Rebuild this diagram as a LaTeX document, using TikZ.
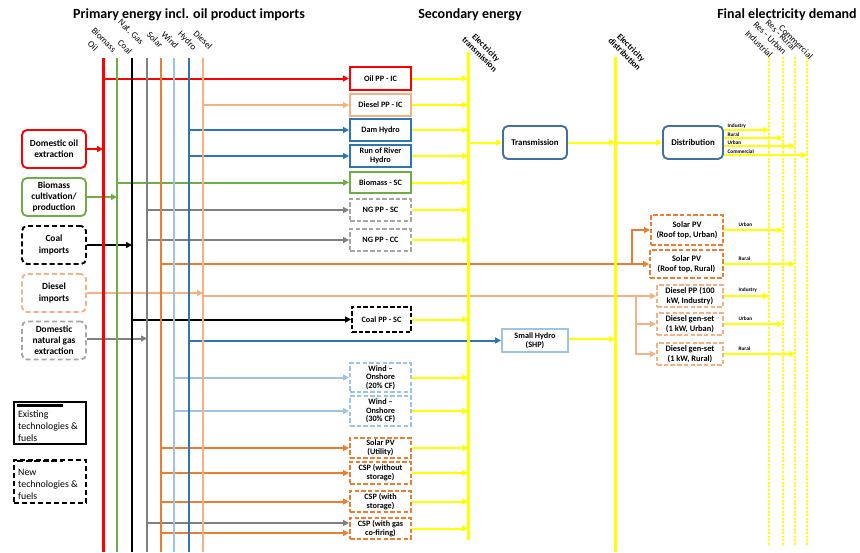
\documentclass[tikz,border=0pt]{standalone}
\usepackage{fontspec}
\setmainfont{Carlito}
\usetikzlibrary{arrows.meta}
\definecolor{cRed}{HTML}{FF0000}
\definecolor{cGreen}{HTML}{70AD47}
\definecolor{cGrey}{HTML}{808080}
\definecolor{cLGrey}{HTML}{A6A6A6}
\definecolor{cOrange}{HTML}{ED7D31}
\definecolor{cLBlue}{HTML}{9DC3E6}
\definecolor{cBlue}{HTML}{2E75B6}
\definecolor{cLOrange}{HTML}{F4B183}
\definecolor{cYellow}{HTML}{FFFF00}
\definecolor{cNavy}{HTML}{41719C}
\begin{document}
\begin{tikzpicture}[x=1pt,y=-1pt,
  font=\fontsize{8.2}{8.8}\selectfont\bfseries,
  box/.style={draw, line width=1.9pt, align=center, inner sep=0.5pt, minimum width=61pt, minimum height=22pt},
  dbox/.style={box, dash pattern=on 4.5pt off 2.2pt},
  lbox/.style={draw, line width=1.9pt, rounded corners=5pt, align=center, inner sep=1pt, minimum width=64pt, minimum height=38pt, font=\fontsize{9.4}{11.2}\selectfont\bfseries},
  dlbox/.style={lbox, dash pattern=on 5pt off 3pt},
  bus/.style={line width=2.2pt},
  arr/.style={line width=2pt, -{Triangle[length=6pt,width=6pt]}},
  yarr/.style={arr, draw=cYellow},
  ybus/.style={line width=3pt, draw=cYellow},
  ydot/.style={line width=2pt, draw=cYellow, dash pattern=on 2pt off 1.6pt},
  blab/.style={rotate=-45, font=\fontsize{9}{10}\selectfont, inner sep=0pt},
  tlab/.style={rotate=-45, font=\fontsize{8.6}{9.2}\selectfont\bfseries, align=center, inner sep=0pt},
  slab/.style={font=\fontsize{5.3}{5.5}\selectfont\bfseries, inner sep=0.5pt, anchor=south west},
  head/.style={font=\fontsize{14}{16}\selectfont\bfseries, inner sep=0pt}
]
\useasboundingbox (0,0) rectangle (860,552);

% headers
\node[head] (h1) at (189,15) {Primary energy incl. oil product imports};
\node[head] (h2) at (470,15) {Secondary energy};
\node[head] (h3) at (787,15) {Final electricity demand};

% bus labels
\node[blab] (lOil) at (93,46) {Oil};
\node[blab] (lBio) at (104,40) {Biomass};
\node[blab] (lCoal) at (125,47) {Coal};
\node[blab] (lGas) at (131,32) {Nat. Gas};
\node[blab] (lSolar) at (155,40) {Solar};
\node[blab] (lWind) at (170,40) {Wind};
\node[blab] (lHydro) at (187,41) {Hydro};
\node[blab] (lDiesel) at (203,40) {Diesel};
\node[tlab] (lTrans) at (483,51) {Electricity\\transmission};
\node[tlab] (lDist) at (628,51) {Electricity\\distribution};
\node[blab] (lInd) at (759,44) {Industrial};
\node[blab] (lResU) at (770,38) {Res - Urban};
\node[blab] (lResR) at (781,35) {Res - Rural};
\node[blab] (lCom) at (796,42) {Commercial};

% bus coordinates
\coordinate (oilT) at (103,58);   \coordinate (oilB) at (103,552);
\coordinate (bioT) at (117,58);   \coordinate (bioB) at (117,552);
\coordinate (coalT) at (132,58);  \coordinate (coalB) at (132,552);
\coordinate (gasT) at (147,58);   \coordinate (gasB) at (147,552);
\coordinate (solT) at (161,58);   \coordinate (solB) at (161,552);
\coordinate (windT) at (174,58);  \coordinate (windB) at (174,552);
\coordinate (hydT) at (189,58);   \coordinate (hydB) at (189,552);
\coordinate (dieT) at (203,58);   \coordinate (dieB) at (203,552);
\coordinate (trT) at (468,52);    \coordinate (trB) at (468,540);
\coordinate (diT) at (615,57);    \coordinate (diB) at (615,552);
\coordinate (indT) at (769,57);   \coordinate (indB) at (769,545);
\coordinate (ruT) at (783,57);    \coordinate (ruB) at (783,545);
\coordinate (rrT) at (795,57);    \coordinate (rrB) at (795,545);
\coordinate (comT) at (807,57);   \coordinate (comB) at (807,545);

% left boxes
\node[lbox, draw=cRed] (oilext) at (54,149) {Domestic oil\\extraction};
\node[lbox, draw=cGreen] (bioprod) at (54,197) {Biomass\\cultivation/\\production};
\node[dlbox, draw=black] (coalimp) at (54,245) {Coal\\imports};
\node[dlbox, draw=cLOrange] (dieimp) at (54,293) {Diesel\\imports};
\node[dlbox, draw=cLGrey] (ngext) at (54,340.5) {Domestic\\natural gas\\extraction};

% legend
\node[draw, line width=2pt, minimum width=72pt, minimum height=42pt, inner sep=0pt] (legE) at (50,423) {};
\node[font=\fontsize{9.8}{12}\selectfont, align=left, anchor=west, inner sep=0pt] (legEt) at (18,426) {Existing\\technologies \&\\fuels};
\coordinate (legEa) at (17,405); \coordinate (legEb) at (63,405);
\draw[line width=3pt] (legEa) -- (legEb);
\node[draw, line width=1.9pt, dash pattern=on 5pt off 3pt, minimum width=72pt, minimum height=43pt, inner sep=0pt] (legN) at (50,481.5) {};
\node[font=\fontsize{9.8}{12}\selectfont, align=left, anchor=west, inner sep=0pt] (legNt) at (18,484) {New\\technologies \&\\fuels};
\coordinate (legNa) at (17,461); \coordinate (legNb) at (63,461);
\draw[line width=2.6pt, dash pattern=on 6pt off 2.5pt] (legNa) -- (legNb);

% centre boxes
\node[box, draw=cRed, line width=2.3pt, minimum height=23pt] (oilpp) at (380.5,78.5) {Oil PP - IC};
\node[box, draw=cLOrange] (diepp) at (380.5,105) {Diesel PP - IC};
\node[box, draw=cBlue] (dam) at (380.5,130) {Dam Hydro};
\node[box, draw=cBlue] (ror) at (380.5,156) {Run of River\\Hydro};
\node[box, draw=cGreen, minimum height=21pt] (biosc) at (380.5,182.5) {Biomass - SC};
\node[dbox, draw=cLGrey] (ngsc) at (380.5,210) {NG PP - SC};
\node[dbox, draw=cLGrey] (ngcc) at (380.5,240) {NG PP - CC};
\node[dbox, draw=black, minimum width=59pt, minimum height=25pt] (coalsc) at (381.5,319.5) {Coal PP - SC};
\node[dbox, draw=cLBlue, minimum height=29pt, font=\fontsize{8.2}{8.4}\selectfont\bfseries] (wind20) at (380.5,377.5) {Wind –\\Onshore\\(20\% CF)};
\node[dbox, draw=cLBlue, minimum height=30pt, font=\fontsize{8.2}{8.4}\selectfont\bfseries] (wind30) at (380.5,411) {Wind –\\Onshore\\(30\% CF)};
\node[dbox, draw=cOrange, minimum height=20pt] (pvutil) at (380.5,448) {Solar PV\\(Utility)};
\node[dbox, draw=cOrange] (cspno) at (380.5,473) {CSP (without\\storage)};
\node[dbox, draw=cOrange, minimum height=21pt] (cspst) at (380.5,501.5) {CSP (with\\storage)};
\node[dbox, draw=cOrange, minimum height=21pt] (cspgas) at (380.5,528.5) {CSP (with gas\\co-firing)};
\node[box, draw=cLBlue, minimum width=66pt, minimum height=23pt] (shp) at (535,340.5) {Small Hydro\\(SHP)};
\node[box, draw=cNavy, rounded corners=5pt, minimum width=64pt, minimum height=33pt, font=\fontsize{8.8}{9.5}\selectfont\bfseries] (trans) at (535,142.5) {Transmission};
\node[box, draw=cNavy, rounded corners=5pt, minimum width=60pt, minimum height=33pt, font=\fontsize{8.8}{9.5}\selectfont\bfseries] (distr) at (693,142.5) {Distribution};

% right boxes
\node[dbox, draw=cOrange, minimum width=72pt, minimum height=30pt, font=\fontsize{8.4}{10}\selectfont\bfseries] (pvu) at (687,230) {Solar PV\\(Roof top, Urban)};
\node[dbox, draw=cOrange, minimum width=73pt, minimum height=28pt, font=\fontsize{8.4}{10}\selectfont\bfseries] (pvr) at (686.5,264) {Solar PV\\(Roof top, Rural)};
\node[dbox, draw=cLOrange, minimum width=66pt, font=\fontsize{8.4}{9.6}\selectfont\bfseries] (dind) at (690,296) {Diesel PP (100\\kW, Industry)};
\node[dbox, draw=cLOrange, minimum width=66pt, font=\fontsize{8.4}{9.6}\selectfont\bfseries] (gsu) at (690,324) {Diesel gen-set\\(1 kW, Urban)};
\node[dbox, draw=cLOrange, minimum width=66pt, font=\fontsize{8.4}{9.6}\selectfont\bfseries] (gsr) at (690,354) {Diesel gen-set\\(1 kW, Rural)};

% horizontal feeds from buses
\draw[arr, cRed] (oilT |- oilpp) -- (oilpp);
\draw[arr, cLOrange] (dieT |- diepp) -- (diepp);
\draw[arr, cBlue] (hydT |- dam) -- (dam);
\draw[arr, cBlue] (hydT |- ror) -- (ror);
\draw[arr, cGreen] (bioT |- biosc) -- (biosc);
\draw[arr, cGrey] (gasT |- ngsc) -- (ngsc);
\draw[arr, cGrey] (gasT |- ngcc) -- (ngcc);
\draw[arr, black] (coalT |- coalsc) -- (coalsc);
\draw[arr, cBlue] (hydT |- shp) -- (shp);
\draw[arr, cLBlue] (windT |- wind20) -- (wind20);
\draw[arr, cLBlue] (windT |- wind30) -- (wind30);
\draw[arr, cOrange] (solT |- pvutil) -- (pvutil);
\draw[arr, cOrange] (solT |- cspno) -- (cspno);
\draw[arr, cOrange] (solT |- cspst) -- (cspst);
\coordinate (cgA) at ([yshift=5.5pt]cspgas.west);
\coordinate (cgB) at ([yshift=-4.5pt]cspgas.west);
\draw[arr, cGrey] (gasT |- cgA) -- (cgA);
\draw[arr, cOrange] (solT |- cgB) -- (cgB);

% solar rooftop feed
\coordinate (solBr) at (632,264);
\draw[arr, cOrange] (solT |- pvr) -- (pvr);
\draw[arr, cOrange] (solBr) |- (pvu);
% diesel feed
\coordinate (dieBr) at (636,296);
\draw[arr, cLOrange] (dieT |- dind) -- (dind);
\draw[arr, cLOrange] (dieBr) |- (gsu);
\draw[arr, cLOrange] (dieBr) |- (gsr);

% left boxes to buses
\draw[arr, cRed] (oilext) -- (oilext -| oilT);
\draw[arr, cGreen] (bioprod) -- (bioprod -| bioT);
\draw[arr, black] (coalimp) -- (coalimp -| coalT);
\draw[arr, cLOrange] (dieimp) -- (dieimp -| dieT);
\coordinate (ngA) at ([yshift=2pt]ngext.east);
\draw[arr, cGrey] (ngA) -- (ngA -| gasT);

% vertical buses
\draw[line width=3pt, cRed] (oilT) -- (oilB);
\draw[bus, cGreen] (bioT) -- (bioB);
\draw[bus, black] (coalT) -- (coalB);
\draw[bus, cGrey] (gasT) -- (gasB);
\draw[bus, cOrange] (solT) -- (solB);
\draw[bus, cLBlue] (windT) -- (windB);
\draw[bus, cBlue] (hydT) -- (hydB);
\draw[bus, cLOrange] (dieT) -- (dieB);

% yellow flows to transmission
\foreach \b in {oilpp,diepp,dam,ror,biosc,ngsc,ngcc,coalsc,wind20,wind30,pvutil,cspno,cspst,cspgas}{
  \draw[yarr] (\b) -- (\b -| trT);
}
\draw[ybus] (trT) -- (trB);
\draw[ybus] (diT) -- (diB);
\draw[ydot] (indT) -- (indB);
\draw[ydot] (ruT) -- (ruB);
\draw[ydot] (rrT) -- (rrB);
\draw[ydot] (comT) -- (comB);

\coordinate (trIn) at (trT |- trans);
\draw[yarr] (trIn) -- (trans);
\draw[yarr] (trans) -- (trans -| diT);
\coordinate (diIn) at (diT |- distr);
\draw[yarr] (diIn) -- (distr);
\coordinate (shpO) at ([yshift=1.5pt]shp.east);
\draw[yarr] (shpO) -- (shpO -| diT);

% distribution outputs
\coordinate (dI) at ([yshift=12.5pt]distr.east);
\coordinate (dR) at ([yshift=4.5pt]distr.east);
\coordinate (dU) at ([yshift=-3.5pt]distr.east);
\coordinate (dC) at ([yshift=-12.5pt]distr.east);
\draw[yarr] (dI) -- (dI -| indT);
\draw[yarr] (dR) -- (dR -| ruT);
\draw[yarr] (dU) -- (dU -| rrT);
\draw[yarr] (dC) -- (dC -| comT);
\node[slab] (tdI) at ([xshift=3pt,yshift=1pt]dI) {Industry};
\node[slab] (tdR) at ([xshift=3pt,yshift=1pt]dR) {Rural};
\node[slab] (tdU) at ([xshift=3pt,yshift=1pt]dU) {Urban};
\node[slab] (tdC) at ([xshift=3pt,yshift=1pt]dC) {Commercial};

% right box outputs
\draw[yarr] (pvu) -- (pvu -| ruT);
\draw[yarr] (pvr) -- (pvr -| rrT);
\draw[yarr] (dind) -- (dind -| indT);
\draw[yarr] (gsu) -- (gsu -| ruT);
\draw[yarr] (gsr) -- (gsr -| rrT);
\node[slab] (tpu) at ([xshift=14pt,yshift=3pt]pvu.east) {Urban};
\node[slab] (tpr) at ([xshift=14pt,yshift=3pt]pvr.east) {Rural};
\node[slab] (tdi) at ([xshift=14pt,yshift=3pt]dind.east) {Industry};
\node[slab] (tgu) at ([xshift=14pt,yshift=3pt]gsu.east) {Urban};
\node[slab] (tgr) at ([xshift=14pt,yshift=3pt]gsr.east) {Rural};
\end{tikzpicture}
\end{document}
